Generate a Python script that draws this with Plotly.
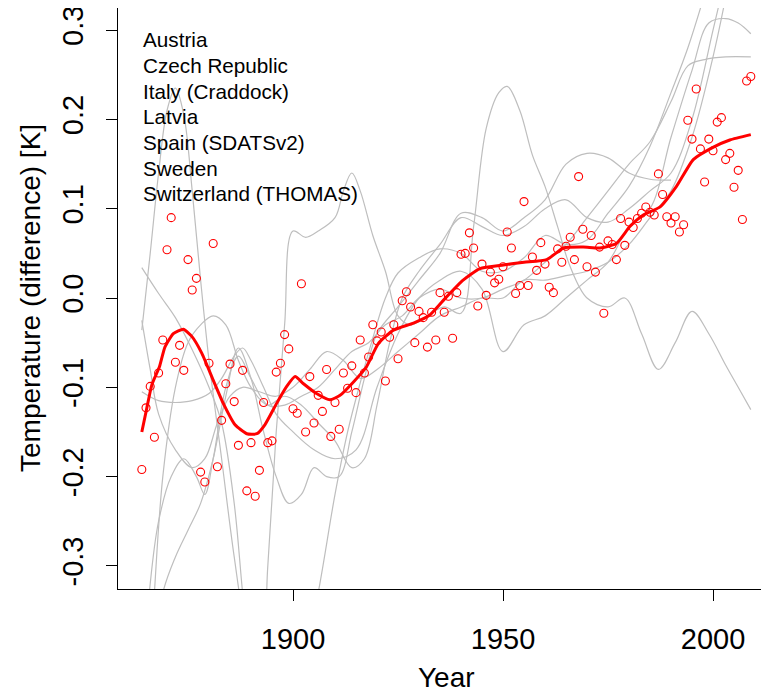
import plotly.graph_objects as go

# ---- annual mean points (red circles) ----
years = list(range(1864, 2010))
values = [
    -0.192, -0.123, -0.099, -0.156, -0.084, -0.047, 0.054, 0.090, -0.072, -0.053,
    -0.081, 0.043, 0.009, 0.022, -0.195, -0.206, -0.073, 0.061, -0.189, -0.137,
    -0.096, -0.074, -0.116, -0.165, -0.081, -0.216, -0.162, -0.222, -0.193, -0.117,
    -0.162, -0.160, -0.083, -0.073, -0.041, -0.057, -0.124, -0.129, 0.016, -0.150,
    -0.088, -0.140, -0.109, -0.127, -0.080, -0.155, -0.117, -0.147, -0.084, -0.101,
    -0.076, -0.106, -0.047, -0.084, -0.066, -0.030, -0.048, -0.038, -0.093, -0.044,
    -0.030, -0.068, -0.003, 0.007, -0.010, -0.050, -0.015, -0.022, -0.055, -0.016,
    -0.047, 0.006, -0.016, 0.002, -0.045, 0.006, 0.049, 0.050, 0.073, 0.056,
    -0.009, 0.038, 0.003, 0.029, 0.017, 0.021, 0.035, 0.074, 0.056, 0.005,
    0.014, 0.108, 0.014, 0.046, 0.031, 0.062, 0.038, 0.012, 0.006, 0.055,
    0.040, 0.058, 0.068, 0.043, 0.136, 0.077, 0.035, 0.070, 0.029, 0.057,
    -0.017, 0.064, 0.060, 0.043, 0.089, 0.059, 0.085, 0.079, 0.089, 0.095,
    0.102, 0.096, 0.093, 0.139, 0.116, 0.091, 0.084, 0.091, 0.074, 0.082,
    0.199, 0.178, 0.234, 0.167, 0.130, 0.178, 0.165, 0.197, 0.202, 0.155,
    0.162, 0.124, 0.143, 0.088, 0.243, 0.248,
]

# ---- smoothed mean (red line) ----
smooth_years = [1864, 1865.2, 1866.4, 1868.2, 1869.5, 1871.5, 1873.9, 1875.9, 1878.3, 1881,
                1883.4, 1886.2, 1889, 1891.4, 1893.3, 1896.1, 1898.5, 1900.5, 1902.5, 1905.6,
                1908.8, 1911.2, 1914.4, 1917.5, 1920.3, 1923.9, 1928.7, 1932.6, 1936.5, 1940.5,
                1944.5, 1950.1, 1955, 1960.4, 1964.4, 1969.1, 1973.1, 1977, 1980.2, 1983.4,
                1987.4, 1991.3, 1995.3, 2000.1, 2004, 2009]
smooth_values = [-0.150, -0.123, -0.097, -0.077, -0.055, -0.040, -0.035, -0.043, -0.062, -0.092,
                 -0.118, -0.142, -0.152, -0.152, -0.142, -0.118, -0.099, -0.088, -0.096, -0.107,
                 -0.114, -0.109, -0.094, -0.077, -0.051, -0.036, -0.028, -0.019, 0.001, 0.020,
                 0.033, 0.037, 0.040, 0.043, 0.056, 0.057, 0.056, 0.061, 0.080, 0.093,
                 0.102, 0.125, 0.155, 0.169, 0.177, 0.183]

# ---- individual country curves (grey) ----
countries = ["Austria", "Czech Republic", "Italy (Craddock)", "Latvia",
             "Spain (SDATSv2)", "Sweden", "Switzerland (THOMAS)"]

c1_years = [1864, 1866, 1868, 1870, 1872, 1874, 1876, 1878, 1880, 1883, 1886, 1889, 1893, 1898,
            1902, 1906, 1910, 1913, 1916, 1919, 1922, 1925, 1930, 1935, 1940, 1945, 1950, 1955,
            1960, 1965, 1970, 1975, 1980, 1985, 1990, 1994, 1998]
c1_vals = [-0.036, 0.05, 0.14, 0.21, 0.235, 0.205, 0.12, 0.02, -0.07, -0.18, -0.29, -0.38, -0.45, -0.47,
           -0.42, -0.33, -0.22, -0.15, -0.095, -0.045, 0.0, 0.028, 0.045, 0.055, 0.05, 0.03, 0.03, 0.045,
           0.07, 0.06, 0.065, 0.095, 0.125, 0.17, 0.23, 0.28, 0.34]

c2_years = [1864, 1868, 1872, 1876, 1880, 1883, 1886, 1888, 1890, 1892, 1894, 1896, 1898, 1900,
            1903, 1906, 1910, 1912, 1914, 1916, 1919, 1922, 1925, 1928, 1932, 1936, 1940, 1943,
            1946, 1949, 1951, 1954, 1957, 1960, 1963, 1966, 1970, 1975, 1979, 1983, 1987, 1991,
            1995, 1999, 2003, 2006, 2009]
c2_vals = [0.034, 0.005, -0.022, -0.058, -0.10, -0.14, -0.23, -0.33, -0.42, -0.42, -0.30, -0.15, -0.03, 0.075,
           0.068, 0.075, 0.09, 0.12, 0.14, 0.12, 0.07, 0.03, -0.02, -0.03, -0.02, -0.01, -0.017, 0.08,
           0.19, 0.23, 0.237, 0.21, 0.16, 0.125, 0.08, 0.035, 0.0, -0.01, 0.0, -0.04, -0.08, -0.05,
           -0.015, -0.04, -0.075, -0.10, -0.125]

c3_years = [1864, 1868, 1872, 1876, 1880, 1883, 1886, 1888, 1890, 1893, 1896, 1900, 1905, 1910,
            1915, 1920, 1925, 1930, 1935, 1940, 1945, 1950, 1955, 1960, 1965, 1970, 1975, 1980,
            1985, 1990, 1995, 1999, 2003, 2006, 2009]
c3_vals = [-0.105, -0.115, -0.117, -0.115, -0.107, -0.09, -0.065, -0.056, -0.07, -0.10, -0.13, -0.15, -0.17, -0.18,
           -0.17, -0.10, -0.04, 0.0, 0.02, 0.03, 0.01, -0.06, -0.03, -0.02, 0.0, 0.02, 0.04, 0.08,
           0.10, 0.18, 0.255, 0.308, 0.313, 0.308, 0.296]

c4_years = [1864, 1866, 1868, 1871, 1874, 1877, 1879, 1881, 1884, 1887, 1890, 1894, 1898, 1902,
            1906, 1910, 1914, 1918, 1922, 1926, 1930, 1935, 1940, 1945, 1950, 1955, 1960, 1965,
            1970, 1975, 1980, 1985, 1990, 1994, 1998, 2003, 2009]
c4_vals = [-0.45, -0.32, -0.25, -0.20, -0.18, -0.20, -0.22, -0.18, -0.10, -0.065, -0.09, -0.12, -0.12, -0.11,
           -0.10, -0.08, -0.06, -0.05, -0.03, -0.02, 0.0, 0.01, 0.0, 0.0, 0.01, 0.02, 0.04, 0.06,
           0.09, 0.12, 0.15, 0.175, 0.22, 0.26, 0.267, 0.27, 0.27]

c5_years = [1865, 1867, 1869, 1872, 1875, 1878, 1881, 1884, 1887, 1890, 1894, 1898, 1902, 1906,
            1910, 1914, 1917, 1920, 1923, 1926, 1930, 1935, 1940, 1945, 1950, 1955, 1960, 1965,
            1970, 1975, 1980, 1985, 1990, 1995, 2000, 2003]
c5_vals = [-0.50, -0.33, -0.20, -0.10, -0.05, -0.03, -0.02, -0.03, -0.07, -0.10, -0.12, -0.11, -0.12, -0.14,
           -0.16, -0.19, -0.18, -0.12, -0.05, 0.0, 0.03, 0.06, 0.09, 0.08, 0.07, 0.08, 0.10, 0.11,
           0.09, 0.085, 0.10, 0.12, 0.14, 0.20, 0.30, 0.36]

c6_years = [1864, 1866, 1868, 1872, 1876, 1879, 1882, 1885, 1888, 1892, 1896, 1900, 1904, 1908,
            1912, 1916, 1920, 1925, 1930, 1935, 1940, 1945, 1950, 1955, 1960, 1965, 1970, 1975,
            1980, 1985, 1990, 1995, 2000, 2004]
c6_vals = [-0.025, -0.08, -0.13, -0.17, -0.19, -0.18, -0.14, -0.11, -0.10, -0.105, -0.11, -0.10, -0.08, -0.06,
           -0.07, -0.09, -0.08, -0.06, -0.04, -0.02, -0.01, 0.0, 0.0, 0.02, 0.02, 0.025, 0.03, 0.04,
           0.06, 0.09, 0.12, 0.18, 0.27, 0.36]

c7_years = [1866, 1869, 1872, 1875, 1878, 1881, 1884, 1887, 1890, 1893, 1896, 1899, 1902, 1905,
            1908, 1911, 1914, 1917, 1920, 1925, 1930, 1935, 1940, 1945, 1950, 1955, 1960, 1965,
            1970, 1975, 1980, 1985, 1990]
c7_vals = [-0.42, -0.33, -0.29, -0.26, -0.23, -0.18, -0.11, -0.056, -0.09, -0.15, -0.20, -0.23, -0.22, -0.19,
           -0.20, -0.20, -0.15, -0.09, -0.04, -0.01, 0.02, 0.05, 0.095, 0.09, 0.075, 0.09, 0.11, 0.15,
           0.162, 0.157, 0.14, 0.133, 0.132]

curve_years = [c1_years, c2_years, c3_years, c4_years, c5_years, c6_years, c7_years]
curve_vals = [c1_vals, c2_vals, c3_vals, c4_vals, c5_vals, c6_vals, c7_vals]

x_ticks = [1900, 1950, 2000]
y_ticks = [-0.3, -0.2, -0.1, 0.0, 0.1, 0.2, 0.3]
y_tick_labels = ["-0.3", "-0.2", "-0.1", "0.0", "0.1", "0.2", "0.3"]

FONT = "Liberation Sans, Arial, sans-serif"

# page has an 8px body margin: figure is sized so it fits the 769x692 window exactly
FIG_W, FIG_H = 761, 684
ML, MR, MT, MB = 110, 0, 0, 103
PLOT_W = FIG_W - ML - MR
PLOT_H = FIG_H - MT - MB

fig = go.Figure()

for name, xs, ys in zip(countries, curve_years, curve_vals):
    fig.add_trace(go.Scatter(x=xs, y=ys, mode="lines", name=name,
                             line=dict(color="#BEBEBE", width=1.2, shape="spline", smoothing=1.0),
                             showlegend=False, hoverinfo="skip"))

fig.add_trace(go.Scatter(x=years, y=values, mode="markers", name="mean",
                         marker=dict(symbol="circle-open", size=8, color="#FF0000",
                                     line=dict(width=1.1, color="#FF0000")),
                         showlegend=False, cliponaxis=True))

fig.add_trace(go.Scatter(x=smooth_years, y=smooth_values, mode="lines", name="smooth",
                         line=dict(color="#FF0000", width=3, shape="spline", smoothing=0.5),
                         showlegend=False))

# legend-like text block (no symbols)
for i, name in enumerate(countries):
    fig.add_annotation(x=1863.8, y=0.289 - i * 0.0287, xref="x", yref="y",
                       text=name, showarrow=False, xanchor="left", yanchor="middle",
                       font=dict(family=FONT, size=20.7, color="#000000"))

# axis titles (positions in page pixels converted to paper coords)
fig.add_annotation(x=(446 - 118) / PLOT_W, y=-(677 - 589) / PLOT_H, xref="paper", yref="paper",
                   text="Year", showarrow=False, xanchor="center", yanchor="middle",
                   font=dict(family=FONT, size=28, color="#000000"))
fig.add_annotation(x=-(118 - 30) / PLOT_W, y=(589 - 298) / PLOT_H, xref="paper", yref="paper",
                   text="Temperature (difference) [K]", showarrow=False, textangle=-90,
                   xanchor="center", yanchor="middle",
                   font=dict(family=FONT, size=28, color="#000000"))

fig.update_layout(
    width=FIG_W, height=FIG_H,
    margin=dict(l=ML, r=MR, t=MT, b=MB, pad=0, autoexpand=False),
    paper_bgcolor="white", plot_bgcolor="white",
    font=dict(family=FONT, color="#000000"),
    xaxis=dict(range=[1858.33, 2013.33], tickvals=x_ticks, ticktext=[str(t) for t in x_ticks],
               showgrid=False, zeroline=False, showline=True, mirror=True,
               linecolor="#000000", linewidth=1, ticks="outside", ticklen=11,
               tickcolor="#000000", tickwidth=1, tickfont=dict(family=FONT, size=29),
               ticklabelstandoff=13, automargin=False, ticklabeloverflow="allow"),
    yaxis=dict(range=[-0.3259, 0.3248], tickvals=y_ticks, ticktext=y_tick_labels,
               showgrid=False, zeroline=False, showline=True, mirror=False,
               linecolor="#000000", linewidth=1, ticks="outside", ticklen=11,
               tickcolor="#000000", tickwidth=1, tickfont=dict(family=FONT, size=29),
               tickangle=-90, ticklabelstandoff=11, automargin=False,
               ticklabeloverflow="allow"),
)

fig.write_html("out.html")
